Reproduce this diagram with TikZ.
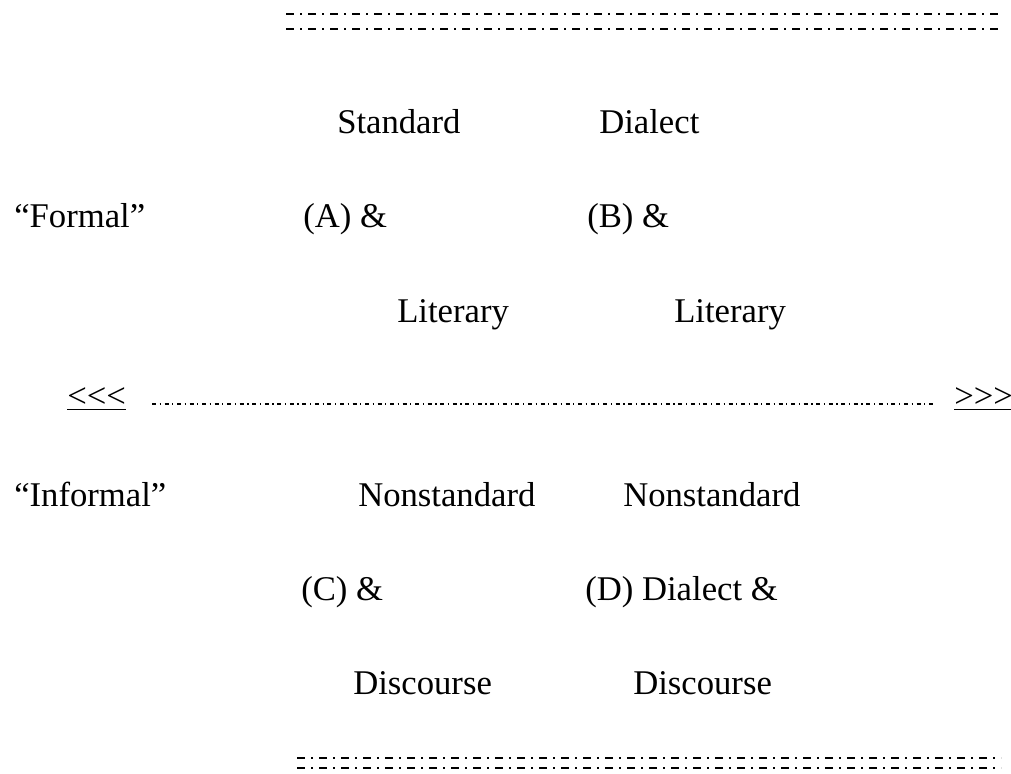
\documentclass[tikz,border=0pt]{standalone}
\usepackage{fontspec}
\setmainfont{Liberation Serif}

\begin{document}
\begin{tikzpicture}[x=0.75pt,y=-0.75pt]
	\tikzstyle{every node}+=[inner sep=0pt,anchor=base west,font=\fontsize{26}{30}\selectfont]
	\tikzstyle{outerrule}=[black,line width=1.1pt,dash pattern=on 6pt off 4.6pt on 1.3pt off 4.6pt]
	\tikzstyle{midrule}=[black,line width=0.9pt,dash pattern=on 3pt off 2.7pt on 0.9pt off 2.8pt]
	\useasboundingbox (0,0) rectangle (1011,774);
	% top rules
	\coordinate (t1l) at (286,14);
	\coordinate (t1r) at (998,14);
	\coordinate (t2l) at (286,29);
	\coordinate (t2r) at (998,29);
	\draw [outerrule] (t1l) -- (t1r);
	\draw [outerrule] (t2l) -- (t2r);
	% formal row
	\node (std) at (337,133) {Standard};
	\node (dia) at (599,133) {Dialect};
	\node (formal) at (14,227) {“Formal”};
	\node (a) at (303,227) {(A) \&};
	\node (b) at (587,227) {(B) \&};
	\node (lit1) at (397,322) {Literary};
	\node (lit2) at (674,322) {Literary};
	% scale
	\node (lt) at (67,407) {\underline{<{}<{}<}};
	\node (gt) at (954,407) {\underline{>{}>{}>}};
	\coordinate (ml) at (152,404);
	\coordinate (mr) at (936,404);
	\draw [midrule] (ml) -- (mr);
	% informal row
	\node (informal) at (14,506) {“Informal”};
	\node (non1) at (358,506) {Nonstandard};
	\node (non2) at (623,506) {Nonstandard};
	\node (c) at (301,600) {(C) \&};
	\node (d) at (585,600) {(D) Dialect \&};
	\node (dis1) at (353,694) {Discourse};
	\node (dis2) at (633,694) {Discourse};
	% bottom rules
	\coordinate (b1l) at (297,758);
	\coordinate (b1r) at (1001,758);
	\coordinate (b2l) at (297,768);
	\coordinate (b2r) at (1001,768);
	\draw [outerrule] (b1l) -- (b1r);
	\draw [outerrule] (b2l) -- (b2r);
\end{tikzpicture}
\end{document}
